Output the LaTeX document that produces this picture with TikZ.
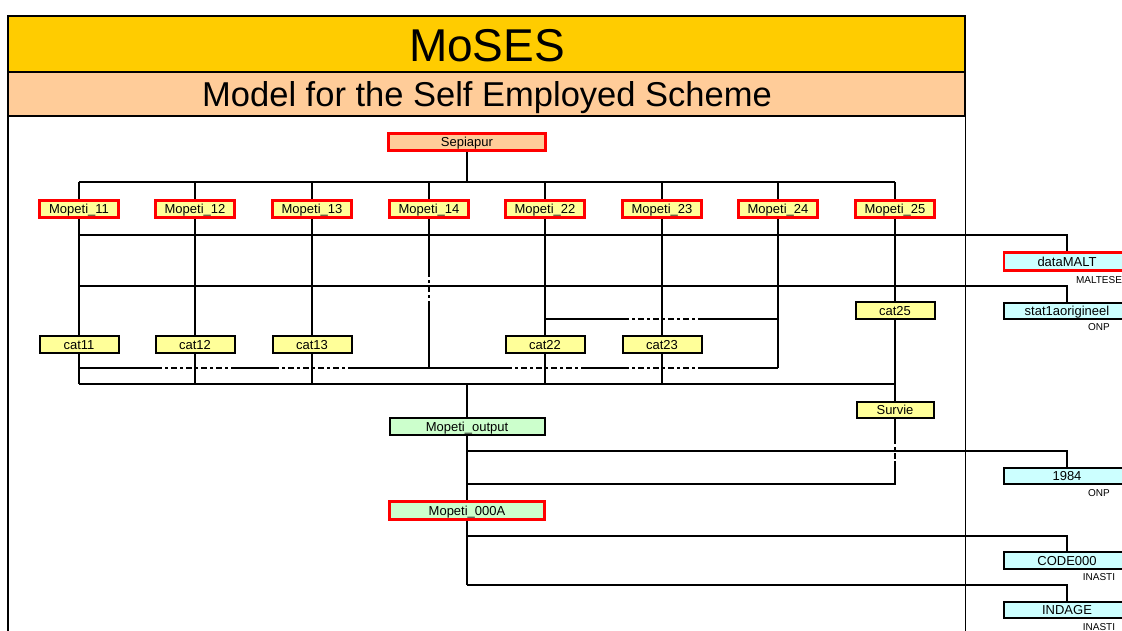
\documentclass[tikz,border=0pt]{standalone}
\usepackage{fontspec}
\setmainfont{Liberation Sans}
\usetikzlibrary{calc}

\definecolor{bandyellow}{HTML}{FFCC00}
\definecolor{bandpeach}{HTML}{FFCC99}
\definecolor{boxyellow}{HTML}{FFFF99}
\definecolor{boxgreen}{HTML}{CCFFCC}
\definecolor{boxcyan}{HTML}{CCFFFF}

\tikzset{
    prog/.style = {rectangle, inner sep=0pt, minimum height=17.5pt, text height=9.3pt, text depth=0pt,
        font=\fontsize{13}{15}\selectfont},
    redbox/.style = {prog, draw=red, line width=2.6pt},
    blackbox/.style = {prog, draw=black, line width=2pt},
    source/.style = {font=\fontsize{10}{12}\selectfont, inner sep=0pt},
    wire/.style = {line width=2pt},
    hop/.style = {wire, dash pattern=on 6pt off 3pt on 3pt off 3pt}
}

\begin{document}
\begin{tikzpicture}[x=1pt,y=-1pt]
    \clip (0,0) rectangle (1122,631);

    % title bands
    \draw[fill=bandyellow, line width=2pt] (8,16) rectangle (965,72);
    \draw[fill=bandpeach, line width=2pt] (8,72) rectangle (965,116);
    \node (title) at (487,46) {\fontsize{46}{50}\selectfont MoSES};
    \node (subtitle) at (487,97.5) {\fontsize{34.5}{40}\selectfont Model for the Self Employed Scheme};
    \draw[line width=1.4pt] (8,116) -- (8,631);
    \draw[line width=0.9pt] (965,16) -- (965,631);

    % levels of the wiring
    \coordinate (busT) at (0,182);
    \coordinate (lnA) at (0,235);
    \coordinate (lnB) at (0,286);
    \coordinate (lnC) at (0,319);
    \coordinate (lnD) at (0,368);
    \coordinate (busB) at (0,384);
    \coordinate (lnE) at (0,451);
    \coordinate (lnF) at (0,484);
    \coordinate (lnG) at (0,536);
    \coordinate (lnH) at (0,585);

    % programs
    \node[redbox, fill=bandpeach, minimum width=157pt] (sep) at (467,142) {Sepiapur};
    \foreach \n/\x in {11/79,12/195,13/312,14/429,22/545,23/662,24/778,25/895}
        \node[redbox, fill=boxyellow, minimum width=79pt] (m\n) at (\x,209) {Mopeti\_\n};
    \foreach \n/\x in {11/79,12/195,13/312,22/545,23/662}
        \node[blackbox, fill=boxyellow, minimum width=79pt, minimum height=17pt] (cat\n) at (\x,344.5) {cat\n};
    \node[blackbox, fill=boxyellow, minimum width=79pt, minimum height=17pt] (cat25) at (895,310.5) {cat25};
    \node[blackbox, fill=boxyellow, minimum width=77pt, minimum height=16.5pt] (survie) at (895,410) {Survie};
    \node[blackbox, fill=boxgreen, minimum width=155pt, minimum height=17pt] (mout) at (467,426.5) {Mopeti\_output};
    \node[redbox, fill=boxgreen, minimum width=155pt] (mzero) at (467,510.5) {Mopeti\_000A};

    % data sets
    \node[redbox, fill=boxcyan, minimum width=126pt] (dmalt) at (1067,261.5) {dataMALT};
    \node[blackbox, fill=boxcyan, minimum width=126pt, minimum height=16pt] (stat) at (1067,311) {stat1aorigineel};
    \node[blackbox, fill=boxcyan, minimum width=126pt, minimum height=16.5pt] (yr) at (1067,476) {1984};
    \node[blackbox, fill=boxcyan, minimum width=126pt, minimum height=17pt] (code) at (1067,560.5) {CODE000};
    \node[blackbox, fill=boxcyan, minimum width=126pt, minimum height=16pt] (indage) at (1067,610) {INDAGE};
    \node[source] (srcA) at (1099,280) {MALTESE};
    \node[source] (srcB) at (1099,327) {ONP};
    \node[source] (srcC) at (1099,493) {ONP};
    \node[source] (srcD) at (1099,577) {INASTI};
    \node[source] (srcE) at (1099,627) {INASTI};

    % Sepiapur to the Mopeti runs
    \draw[wire] (sep.south) -- (sep.south |- busT);
    \draw[wire] (m11 |- busT) -- (m25 |- busT);
    \foreach \n in {11,12,13,14,22,23,24,25}
        \draw[wire] (m\n.north) -- (m\n.north |- busT);

    \draw[wire] (m11 |- lnA) -- (dmalt |- lnA) -- (dmalt.north);
    \draw[wire] (m11 |- lnB) -- (stat |- lnB) -- (stat.north);

    % Mopeti to cat
    \foreach \n in {11,12,13,22,23} {
        \draw[wire] (m\n.south) -- (cat\n.north);
        \draw[wire] (cat\n.south) -- (cat\n |- busB);
    }
    \draw[wire] (m14.south) -- ($(m14 |- lnB)+(0,-15)$);
    \draw[hop] ($(m14 |- lnB)+(0,-15)$) -- ($(m14 |- lnB)+(0,17)$);
    \draw[wire] ($(m14 |- lnB)+(0,17)$) -- (m14 |- lnD);
    \draw[wire] (m24.south) -- (m24 |- lnD);
    \draw[wire] (m25.south) -- (cat25.north);
    \draw[wire] (cat25.south) -- (survie.north);
    \draw[wire] (cat11 |- busB) -- (cat25 |- busB);

    \draw[wire] (cat22 |- lnC) -- ($(cat23 |- lnC)+(-39,0)$);
    \draw[hop] ($(cat23 |- lnC)+(-39,0)$) -- ($(cat23 |- lnC)+(39,0)$);
    \draw[wire] ($(cat23 |- lnC)+(39,0)$) -- (m24 |- lnC);

    \draw[wire] (cat11 |- lnD) -- ($(cat12 |- lnD)+(-39,0)$);
    \draw[hop] ($(cat12 |- lnD)+(-39,0)$) -- ($(cat12 |- lnD)+(39,0)$);
    \draw[wire] ($(cat12 |- lnD)+(39,0)$) -- ($(cat13 |- lnD)+(-39,0)$);
    \draw[hop] ($(cat13 |- lnD)+(-39,0)$) -- ($(cat13 |- lnD)+(39,0)$);
    \draw[wire] ($(cat13 |- lnD)+(39,0)$) -- ($(cat22 |- lnD)+(-39,0)$);
    \draw[hop] ($(cat22 |- lnD)+(-39,0)$) -- ($(cat22 |- lnD)+(39,0)$);
    \draw[wire] ($(cat22 |- lnD)+(39,0)$) -- ($(cat23 |- lnD)+(-39,0)$);
    \draw[hop] ($(cat23 |- lnD)+(-39,0)$) -- ($(cat23 |- lnD)+(39,0)$);
    \draw[wire] ($(cat23 |- lnD)+(39,0)$) -- (m24 |- lnD);

    % output stage
    \draw[wire] (sep |- busB) -- (mout.north);
    \draw[wire] (mout.south) -- (mzero.north);
    \draw[wire] (mout |- lnE) -- (yr |- lnE) -- (yr.north);
    \draw[wire] (survie.south) -- ($(survie |- lnE)+(0,-13)$);
    \draw[hop] ($(survie |- lnE)+(0,-13)$) -- ($(survie |- lnE)+(0,10)$);
    \draw[wire] ($(survie |- lnE)+(0,10)$) -- (survie |- lnF) -- (mout |- lnF);
    \draw[wire] (mzero.south) -- (mzero |- lnH);
    \draw[wire] (mzero |- lnG) -- (code |- lnG) -- (code.north);
    \draw[wire] (mzero |- lnH) -- (indage |- lnH) -- (indage.north);
\end{tikzpicture}
\end{document}
